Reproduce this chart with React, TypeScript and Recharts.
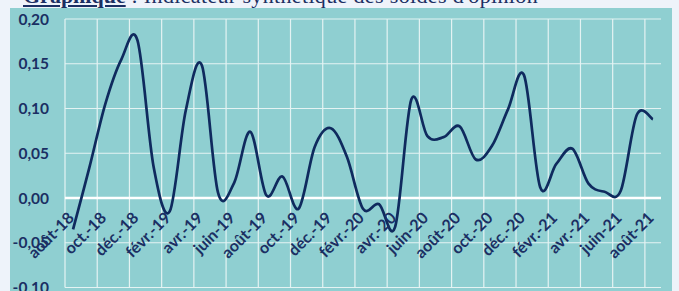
import React from 'react';
import { LineChart, Line, XAxis, YAxis, CartesianGrid, ReferenceLine } from 'recharts';

const months = [
  'août-18', 'sept.-18', 'oct.-18', 'nov.-18', 'déc.-18', 'janv.-19', 'févr.-19', 'mars-19',
  'avr.-19', 'mai-19', 'juin-19', 'juil.-19', 'août-19', 'sept.-19', 'oct.-19', 'nov.-19',
  'déc.-19', 'janv.-20', 'févr.-20', 'mars-20', 'avr.-20', 'mai-20', 'juin-20', 'juil.-20',
  'août-20', 'sept.-20', 'oct.-20', 'nov.-20', 'déc.-20', 'janv.-21', 'févr.-21', 'mars-21',
  'avr.-21', 'mai-21', 'juin-21', 'juil.-21', 'août-21',
];

const indicator = [
  -0.035, 0.033, 0.105, 0.155, 0.176, 0.035, -0.015, 0.098,
  0.148, 0.006, 0.017, 0.074, 0.003, 0.024, -0.012, 0.057,
  0.078, 0.046, -0.012, -0.007, -0.032, 0.11, 0.069, 0.068,
  0.08, 0.043, 0.058, 0.099, 0.137, 0.012, 0.038, 0.055,
  0.016, 0.007, 0.008, 0.093, 0.088,
];

const xTickLabels = [
  'août-18', 'oct.-18', 'déc.-18', 'févr.-19', 'avr.-19', 'juin-19', 'août-19', 'oct.-19',
  'déc.-19', 'févr.-20', 'avr.-20', 'juin-20', 'août-20', 'oct.-20', 'déc.-20', 'févr.-21',
  'avr.-21', 'juin-21', 'août-21',
];

const yTicks = [-0.1, -0.05, 0, 0.05, 0.1, 0.15, 0.2];

const data = months.map((m, i) => ({ i, m, v: indicator[i] }));
const xTicks = xTickLabels.map((l) => months.indexOf(l));
const gridXs = xTicks.map((t) => t - 0.5);

const W = 679;
const H = 291;
const PLOT_TOP = 19;
const PLOT_BOTTOM = 287.5;
const Y_MIN = -0.1;
const Y_MAX = 0.2;
const ZERO_Y = PLOT_TOP + ((Y_MAX - 0) / (Y_MAX - Y_MIN)) * (PLOT_BOTTOM - PLOT_TOP);

const NAVY = '#1B2F63';
const LINE = '#0F2A5E';
const TEAL = '#8FCFD1';
const GRID = '#E4F3F3';

// Excel-like smoothed line (Catmull-Rom through the points)
function excelSmooth(context: any) {
  let pts: number[][] = [];
  return {
    areaStart() {},
    areaEnd() {},
    lineStart() {
      pts = [];
    },
    lineEnd() {
      if (!pts.length) return;
      context.moveTo(pts[0][0], pts[0][1]);
      for (let k = 0; k < pts.length - 1; k++) {
        const p0 = pts[k - 1] || pts[k];
        const p1 = pts[k];
        const p2 = pts[k + 1];
        const p3 = pts[k + 2] || p2;
        const c1x = p1[0] + (p2[0] - p0[0]) / 6;
        const c1y = p1[1] + (p2[1] - p0[1]) / 6;
        const c2x = p2[0] - (p3[0] - p1[0]) / 6;
        const c2y = p2[1] - (p3[1] - p1[1]) / 6;
        context.bezierCurveTo(c1x, c1y, c2x, c2y, p2[0], p2[1]);
      }
    },
    point(x: number, y: number) {
      pts.push([+x, +y]);
    },
  };
}

const XTick = (props: any) => {
  const { x, payload } = props;
  return (
    <text
      transform={`translate(${x + 2},${ZERO_Y + 21}) rotate(-45)`}
      textAnchor="end"
      fill={NAVY}
      fontSize={16}
      fontWeight={700}
      fontFamily="Lato"
    >
      {months[payload.value]}
    </text>
  );
};

const fmtY = (v: number) => v.toFixed(2).replace('.', ',');

export default function App() {
  return (
    <div style={{ position: 'absolute', left: 0, top: 0, width: W, height: H, background: '#EEF3FA', overflow: 'hidden' }}>
      <div
        style={{
          position: 'absolute',
          left: 23,
          top: -15,
          fontFamily: '"Liberation Serif", serif',
          fontSize: 22,
          color: NAVY,
          whiteSpace: 'nowrap',
          lineHeight: '22px',
        }}
      >
        <span style={{ fontWeight: 700, textDecoration: 'underline' }}>Graphique</span>
        <span style={{ letterSpacing: 0.35 }}> : Indicateur synthétique des soldes d'opinion</span>
      </div>
      <div style={{ position: 'absolute', left: 10, top: 8, width: 662, height: 290, background: TEAL }} />
      <div style={{ position: 'absolute', left: 0, top: 0 }}>
        <LineChart width={W} height={H} data={data} margin={{ top: PLOT_TOP, right: 18, bottom: H - PLOT_BOTTOM - 1, left: 10 }}>
          <CartesianGrid vertical={false} stroke={GRID} strokeWidth={1.2} />
          {gridXs.map((gx) => (
            <ReferenceLine key={gx} x={gx} stroke={GRID} strokeWidth={1.2} ifOverflow="visible" />
          ))}
          <ReferenceLine y={0} stroke="#FFFFFF" strokeWidth={2.5} />
          <XAxis
            type="number"
            dataKey="i"
            domain={[-0.5, 36.5]}
            ticks={xTicks}
            interval={0}
            height={1}
            tickLine={false}
            axisLine={false}
            tickSize={0}
            tickMargin={0}
            tick={(p: any) => <XTick {...p} />}
          />
          <YAxis
            type="number"
            domain={[Y_MIN, Y_MAX]}
            ticks={yTicks}
            interval={0}
            width={55}
            tickLine={false}
            axisLine={false}
            tickSize={0}
            tickMargin={16}
            tickFormatter={fmtY}
            tick={{ fill: NAVY, fontSize: 15.5, fontWeight: 700, fontFamily: 'Lato' }}
          />
          <Line
            dataKey="v"
            type={excelSmooth as any}
            stroke={LINE}
            strokeWidth={2.7}
            dot={false}
            isAnimationActive={false}
          />
        </LineChart>
      </div>
    </div>
  );
}
